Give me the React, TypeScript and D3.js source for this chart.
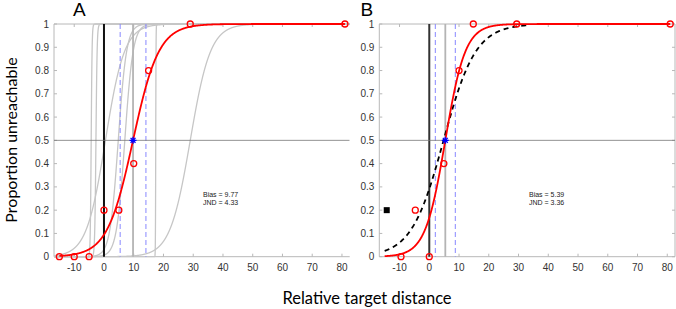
import React from 'react';
import * as d3 from 'd3';

const xTicks = [-10, 0, 10, 20, 30, 40, 50, 60, 70, 80];
const yTicks = [0, 0.1, 0.2, 0.3, 0.4, 0.5, 0.6, 0.7, 0.8, 0.9, 1];
const xDomain = [-16.8, 82.6];

// Panel A
const aPointsX = [-15, -10, -5, 0, 5, 10, 15, 29, 81];
const aPointsY = [0, 0, 0, 0.2, 0.2, 0.4, 0.8, 1, 1];
const aBias = 9.77;
const aJnd = 4.33;
const aGrayMu = [-4.3, -2.7, 0.5, 4.8, 7.0, 17.4, 29];
const aGrayScale = [0.15, 0.2, 3.2, 1.4, 1.4, 0.05, 3.4];

// Panel B
const bPointsX = [-9.5, -4.7, 0, 4.9, 10, 14.8, 29.4, 81];
const bPointsY = [0, 0.2, 0, 0.4, 0.8, 1, 1, 1];
const bBias = 5.39;
const bJnd = 3.36;
const bDashMu = 4.8;
const bDashScale = 5.4;
const bDashRange = [-15, 34];
const bSquare = [-14.3, 0.2];

const logistic = (mu: number, s: number) => (x: number) => 1 / (1 + Math.exp(-(x - mu) / s));

const TOP = 24;
const BOTTOM = 256.7;
const tickFont = '"Liberation Sans", Arial, sans-serif';

function Panel(props: any) {
  const { left, right, label, px, py, bias, jnd, gray, dash, square, rightAxis, clipId, textX, zeroColor } = props;
  const x = d3.scaleLinear().domain(xDomain).range([left, right]);
  const y = d3.scaleLinear().domain([0, 1]).range([BOTTOM, TOP]);
  const line = d3.line<[number, number]>().x(d => x(d[0])).y(d => y(d[1]));
  const fit = logistic(bias, jnd);
  const fitPts: [number, number][] = d3.range(-15, 81.01, 0.1).map(v => [v, fit(v)]);
  const grayPaths = gray.mu.map((m: number, i: number) => {
    const f = logistic(m, gray.s[i]);
    const pts: [number, number][] = d3.range(xDomain[0], xDomain[1], 0.02).map(v => [v, f(v)]);
    return line(pts);
  });
  let dashPath: string | null = null;
  if (dash) {
    const f = logistic(dash.mu, dash.s);
    const pts: [number, number][] = d3.range(dash.range[0], dash.range[1], 0.1).map(v => [v, f(v)]);
    dashPath = line(pts);
  }
  const axisColor = '#b8b8b8';
  const star = (cx: number, cy: number, r: number) => {
    const d: string[] = [];
    for (let k = 0; k < 4; k++) {
      const a = (k * Math.PI) / 4;
      d.push(`M${cx - r * Math.cos(a)},${cy - r * Math.sin(a)}L${cx + r * Math.cos(a)},${cy + r * Math.sin(a)}`);
    }
    return d.join('');
  };
  return (
    <g>
      <defs>
        <clipPath id={clipId}>
          <rect x={left} y={TOP - 1} width={right - left} height={BOTTOM - TOP + 2} />
        </clipPath>
      </defs>
      <line x1={left} x2={left} y1={TOP} y2={BOTTOM} stroke={axisColor} strokeWidth={1} />
      <line x1={left} x2={right} y1={BOTTOM} y2={BOTTOM} stroke={axisColor} strokeWidth={1} />
      <line x1={left} x2={right} y1={TOP} y2={TOP} stroke={axisColor} strokeWidth={1} />
      {rightAxis && <line x1={right} x2={right} y1={TOP} y2={BOTTOM} stroke={axisColor} strokeWidth={1} />}
      {yTicks.map(t => (
        <g key={'y' + t}>
          <line x1={left} x2={left + 3} y1={y(t)} y2={y(t)} stroke={axisColor} />
          {rightAxis && <line x1={right} x2={right - 3} y1={y(t)} y2={y(t)} stroke={axisColor} />}
          <text x={left - 5} y={y(t) + 3.5} textAnchor="end" fontSize={10} fontFamily={tickFont} fill="#333">{String(t)}</text>
        </g>
      ))}
      {xTicks.map(t => (
        <g key={'x' + t}>
          <line x1={x(t)} x2={x(t)} y1={BOTTOM} y2={BOTTOM - 3} stroke={axisColor} />
          <line x1={x(t)} x2={x(t)} y1={TOP} y2={TOP + 3} stroke={axisColor} />
          <text x={x(t)} y={BOTTOM + 14} textAnchor="middle" fontSize={10} fontFamily={tickFont} fill="#333">{String(t)}</text>
        </g>
      ))}
      <g clipPath={`url(#${clipId})`}>
        {grayPaths.map((p: string, i: number) => (
          <path key={i} d={p} fill="none" stroke="#c6c6c6" strokeWidth={1.3} />
        ))}
        <line x1={x(0)} x2={x(0)} y1={TOP} y2={BOTTOM} stroke={zeroColor} strokeWidth={2} />
        <line x1={x(bias)} x2={x(bias)} y1={TOP} y2={BOTTOM} stroke="#b4b4b4" strokeWidth={1.8} />
        <line x1={x(bias - jnd)} x2={x(bias - jnd)} y1={TOP} y2={BOTTOM} stroke="#8888ff" strokeWidth={1} strokeDasharray="5,3" />
        <line x1={x(bias + jnd)} x2={x(bias + jnd)} y1={TOP} y2={BOTTOM} stroke="#8888ff" strokeWidth={1} strokeDasharray="5,3" />
        <line x1={left} x2={right} y1={y(0.5)} y2={y(0.5)} stroke="#777" strokeWidth={0.8} />
        {dashPath && <path d={dashPath} fill="none" stroke="#000" strokeWidth={1.8} strokeDasharray="5,4" />}
      </g>
      <path d={line(fitPts) as string} fill="none" stroke="#ff0000" strokeWidth={1.8} />
      {px.map((v: number, i: number) => (
        <circle key={i} cx={x(v)} cy={y(py[i])} r={3} fill="none" stroke="#ff0000" strokeWidth={1.3} />
      ))}
      <path d={star(x(bias), y(0.5), 3.5)} stroke="#0000ff" strokeWidth={1.3} />
      {square && <rect x={x(square[0]) - 3} y={y(square[1]) - 3} width={6} height={6} fill="#000" />}
      <text x={textX} y={196.5} fontSize={7} fontFamily={tickFont} fill="#222">{`Bias = ${bias.toFixed(2)}`}</text>
      <text x={textX} y={205.2} fontSize={7} fontFamily={tickFont} fill="#222">{`JND = ${jnd.toFixed(2)}`}</text>
      <text x={label === 'A' ? 73 : 360.5} y={16} fontSize={19} fontFamily={tickFont} fill="#000">{label}</text>
    </g>
  );
}

export default function App() {
  return (
    <svg width={676} height={309} style={{ position: 'absolute', left: 0, top: 0, background: '#fff' }}>
      <Panel
        left={54} right={349.7} label="A" px={aPointsX} py={aPointsY} bias={aBias} jnd={aJnd}
        gray={{ mu: aGrayMu, s: aGrayScale }} clipId="clipA" textX={203} zeroColor="#111"
      />
      <Panel
        left={379.3} right={675} label="B" px={bPointsX} py={bPointsY} bias={bBias} jnd={bJnd}
        gray={{ mu: [], s: [] }} dash={{ mu: bDashMu, s: bDashScale, range: bDashRange }}
        square={bSquare} rightAxis clipId="clipB" textX={529} zeroColor="#333"
      />
      <text transform="translate(17,140) rotate(-90)" textAnchor="middle" fontSize={16} fontFamily="Lato, 'Open Sans', sans-serif" fill="#000">Proportion unreachable</text>
      <text x={367} y={304} textAnchor="middle" fontSize={16.5} fontFamily="Lato, 'Open Sans', sans-serif" fill="#000">Relative target distance</text>
    </svg>
  );
}
